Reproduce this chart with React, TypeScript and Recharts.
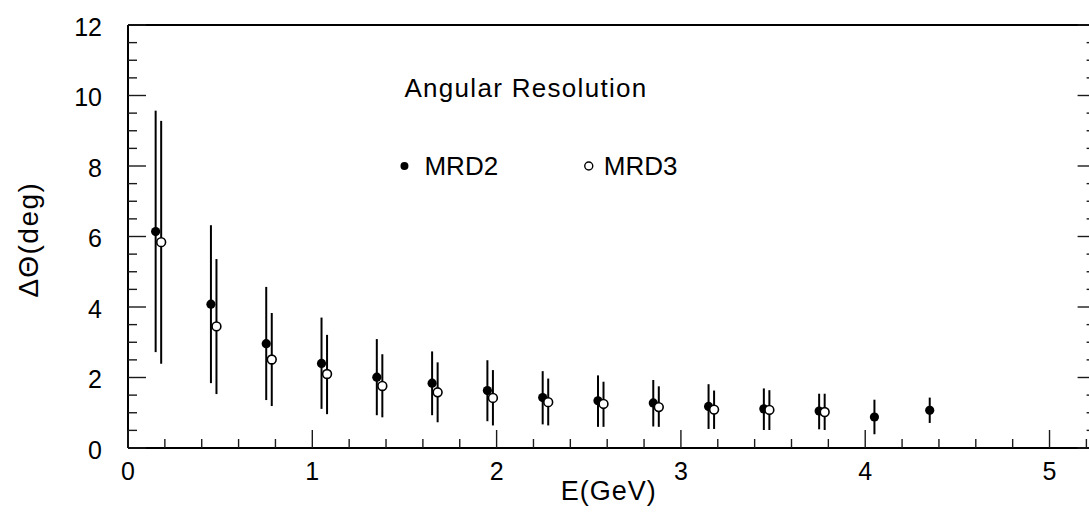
import React from 'react';
import { ScatterChart, Scatter, XAxis, YAxis, ErrorBar, ReferenceDot } from 'recharts';

// ---- data ----
const mrd2X = [0.15, 0.45, 0.75, 1.05, 1.35, 1.65, 1.95, 2.25, 2.55, 2.85, 3.15, 3.45, 3.75, 4.05, 4.35];
const mrd2Y = [6.14, 4.08, 2.96, 2.4, 2.01, 1.84, 1.63, 1.43, 1.34, 1.28, 1.18, 1.11, 1.05, 0.88, 1.07];
const mrd2Hi = [9.57, 6.32, 4.57, 3.7, 3.09, 2.74, 2.49, 2.18, 2.06, 1.93, 1.81, 1.69, 1.54, 1.37, 1.43];
const mrd2Lo = [2.72, 1.84, 1.36, 1.11, 0.93, 0.93, 0.76, 0.67, 0.6, 0.61, 0.54, 0.51, 0.53, 0.39, 0.71];

const mrd3X = [0.18, 0.48, 0.78, 1.08, 1.38, 1.68, 1.98, 2.28, 2.58, 2.88, 3.18, 3.48, 3.78];
const mrd3Y = [5.84, 3.45, 2.51, 2.1, 1.76, 1.58, 1.42, 1.3, 1.25, 1.16, 1.09, 1.08, 1.02];
const mrd3Hi = [9.28, 5.36, 3.83, 3.21, 2.66, 2.43, 2.21, 1.97, 1.88, 1.75, 1.63, 1.64, 1.54];
const mrd3Lo = [2.39, 1.53, 1.19, 0.96, 0.87, 0.73, 0.64, 0.64, 0.6, 0.6, 0.54, 0.51, 0.51];

const xMajorTicks = [0, 1, 2, 3, 4, 5];
const xTickLabels = ['0', '1', '2', '3', '4', '5'];
const xAllTicks = [0, 0.2, 0.4, 0.6, 0.8, 1, 1.2, 1.4, 1.6, 1.8, 2, 2.2, 2.4, 2.6, 2.8, 3, 3.2, 3.4, 3.6, 3.8, 4, 4.2, 4.4, 4.6, 4.8, 5, 5.2];
const yMajorTicks = [0, 2, 4, 6, 8, 10, 12];
const yTickLabels = ['0', '2', '4', '6', '8', '10', '12'];
const yAllTicks = [0, 0.5, 1, 1.5, 2, 2.5, 3, 3.5, 4, 4.5, 5, 5.5, 6, 6.5, 7, 7.5, 8, 8.5, 9, 9.5, 10, 10.5, 11, 11.5, 12];

const xDomain = [0, 5.25];
const yDomain = [0, 12];

const titleText = 'Angular Resolution';
const seriesNames = ['MRD2', 'MRD3'];
const xTitle = 'E(GeV)';
const yTitle = 'ΔΘ(deg)';

const mrd2Data = mrd2X.map((x, i) => ({ x, y: mrd2Y[i], err: [mrd2Y[i] - mrd2Lo[i], mrd2Hi[i] - mrd2Y[i]] }));
const mrd3Data = mrd3X.map((x, i) => ({ x, y: mrd3Y[i], err: [mrd3Y[i] - mrd3Lo[i], mrd3Hi[i] - mrd3Y[i]] }));

// ---- styling ----
const FONT = '"Liberation Sans", Arial, Helvetica, sans-serif';
const TICK = '#1a1a1a';
const MAJ = 18;
const MIN = 9;

const majorIndex = (v: number, majors: number[]) => majors.findIndex((m) => Math.abs(m - v) < 1e-6);

const BottomTick = (p: any) => {
  const { x, y, payload } = p;
  const i = majorIndex(payload.value, xMajorTicks);
  return (
    <g>
      <line x1={x} y1={y} x2={x} y2={y - (i >= 0 ? MAJ : MIN)} stroke={TICK} strokeWidth={1.4} />
      {i >= 0 && (
        <text x={x} y={y + 32} textAnchor="middle" fontSize={25} fontFamily={FONT} fill="#000">
          {xTickLabels[i]}
        </text>
      )}
    </g>
  );
};

const TopTick = (p: any) => {
  const { x, y, payload } = p;
  const i = majorIndex(payload.value, xMajorTicks);
  return <line x1={x} y1={y} x2={x} y2={y + (i >= 0 ? MAJ : MIN)} stroke={TICK} strokeWidth={1.4} />;
};

const LeftTick = (p: any) => {
  const { x, y, payload } = p;
  const i = majorIndex(payload.value, yMajorTicks);
  return (
    <g>
      <line x1={x} y1={y} x2={x + (i >= 0 ? MAJ : MIN)} y2={y} stroke={TICK} strokeWidth={1.4} />
      {i >= 0 && (
        <text x={x - 26} y={y + 10.5} textAnchor="end" fontSize={25} fontFamily={FONT} fill="#000">
          {yTickLabels[i]}
        </text>
      )}
    </g>
  );
};

const RightTick = (p: any) => {
  const { x, y, payload } = p;
  const i = majorIndex(payload.value, yMajorTicks);
  return <line x1={x} y1={y} x2={x - (i >= 0 ? MAJ : MIN)} y2={y} stroke={TICK} strokeWidth={1.4} />;
};

const XTitle = (p: any) => {
  const vb = p.viewBox || { x: 128, y: 448, width: 967, height: 81 };
  return (
    <text x={vb.x + vb.width / 2 - 3} y={vb.y + 52} textAnchor="middle" fontSize={27} fontFamily={FONT} fill="#000" letterSpacing={1}>
      {xTitle}
    </text>
  );
};

const YTitle = (p: any) => {
  const vb = p.viewBox || { x: 0, y: 25, width: 128, height: 423 };
  const cx = vb.x + 28;
  const cy = vb.y + vb.height / 2 + 3;
  return (
    <text
      x={cx}
      y={cy}
      transform={`rotate(-90 ${cx} ${cy})`}
      textAnchor="middle"
      dy="0.36em"
      fontSize={28}
      fontFamily={FONT}
      fill="#000"
      letterSpacing={1.5}
    >
      {yTitle}
    </text>
  );
};

const FilledDot = (p: any) => <circle cx={p.cx} cy={p.cy} r={4.6} fill="#000" />;
const OpenDot = (p: any) => <circle cx={p.cx} cy={p.cy} r={4.4} fill="#fff" stroke="#000" strokeWidth={1.6} />;

const TitleShape = (p: any) => (
  <text x={p.cx} y={p.cy} fontSize={26} fontFamily={FONT} fill="#000" letterSpacing={1.3}>
    {titleText}
  </text>
);

const LegendFilled = (p: any) => (
  <g>
    <circle cx={p.cx} cy={p.cy} r={4} fill="#000" />
    <text x={p.cx + 20} y={p.cy} dy="0.36em" fontSize={26} fontFamily={FONT} fill="#000">
      {seriesNames[0]}
    </text>
  </g>
);

const LegendOpen = (p: any) => (
  <g>
    <circle cx={p.cx} cy={p.cy} r={4} fill="#fff" stroke="#000" strokeWidth={1.4} />
    <text x={p.cx + 15} y={p.cy} dy="0.36em" fontSize={26} fontFamily={FONT} fill="#000">
      {seriesNames[1]}
    </text>
  </g>
);

export default function App() {
  return (
    <div style={{ position: 'fixed', left: 0, top: 0, width: 1089, height: 529, overflow: 'hidden', background: '#fff' }}>
      <ScatterChart width={1100} height={529} margin={{ top: 24, right: 3.4, bottom: 0, left: 0 }}>
        <XAxis
          xAxisId="x"
          type="number"
          dataKey="x"
          domain={xDomain}
          allowDataOverflow
          ticks={xAllTicks}
          interval={0}
          tick={BottomTick}
          tickLine={false}
          tickSize={0}
          tickMargin={0}
          axisLine={{ stroke: '#000', strokeWidth: 2 }}
          height={81}
          label={<XTitle />}
        />
        <XAxis
          xAxisId="top"
          orientation="top"
          type="number"
          domain={xDomain}
          allowDataOverflow
          ticks={xAllTicks}
          interval={0}
          tick={TopTick}
          tickLine={false}
          tickSize={0}
          tickMargin={0}
          axisLine={{ stroke: '#000', strokeWidth: 2 }}
          height={1}
        />
        <YAxis
          yAxisId="y"
          type="number"
          dataKey="y"
          domain={yDomain}
          allowDataOverflow
          ticks={yAllTicks}
          interval={0}
          tick={LeftTick}
          tickLine={false}
          tickSize={0}
          tickMargin={0}
          axisLine={{ stroke: '#000', strokeWidth: 2 }}
          width={128}
          label={<YTitle />}
        />
        <YAxis
          yAxisId="right"
          orientation="right"
          type="number"
          domain={yDomain}
          allowDataOverflow
          ticks={yAllTicks}
          interval={0}
          tick={RightTick}
          tickLine={false}
          tickSize={0}
          tickMargin={0}
          axisLine={{ stroke: '#000', strokeWidth: 2 }}
          width={1}
        />
        <Scatter xAxisId="x" yAxisId="y" name={seriesNames[0]} data={mrd2Data} shape={FilledDot} isAnimationActive={false}>
          <ErrorBar dataKey="err" direction="y" width={0} stroke="#000" strokeWidth={2} isAnimationActive={false} />
        </Scatter>
        <Scatter xAxisId="x" yAxisId="y" name={seriesNames[1]} data={mrd3Data} shape={OpenDot} isAnimationActive={false}>
          <ErrorBar dataKey="err" direction="y" width={0} stroke="#000" strokeWidth={2} isAnimationActive={false} />
        </Scatter>
        <ReferenceDot xAxisId="x" yAxisId="y" x={1.5} y={9.95} r={0} shape={TitleShape} />
        <ReferenceDot xAxisId="x" yAxisId="y" x={1.5} y={8} r={4} shape={LegendFilled} />
        <ReferenceDot xAxisId="x" yAxisId="y" x={2.5} y={8} r={4} shape={LegendOpen} />
      </ScatterChart>
    </div>
  );
}
